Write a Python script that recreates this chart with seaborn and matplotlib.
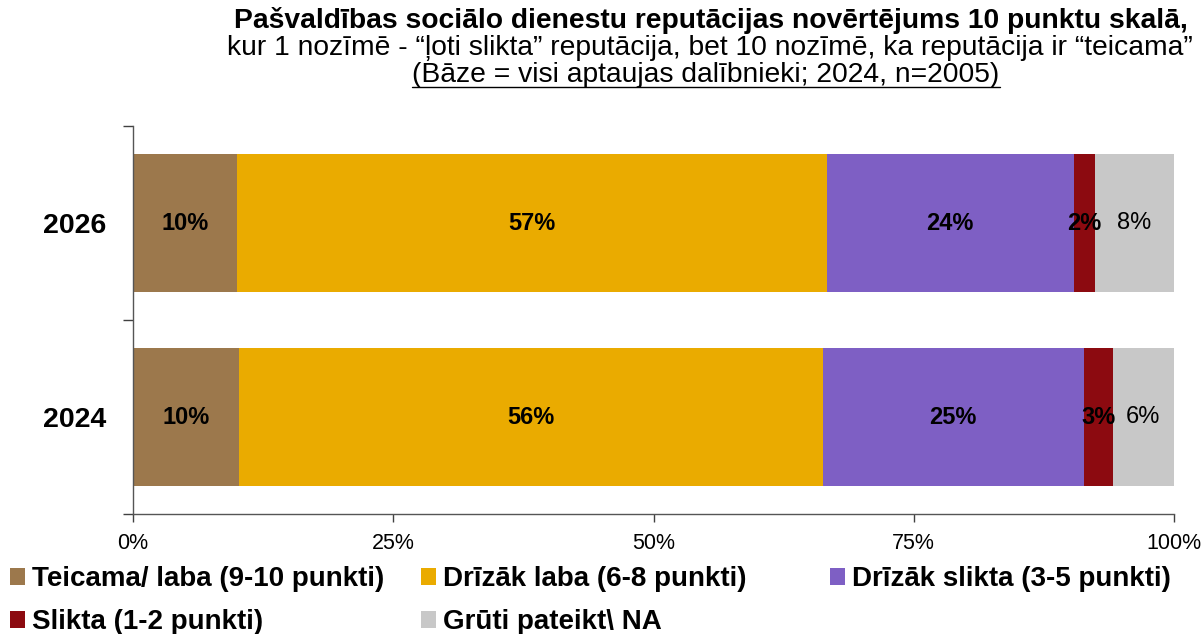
import numpy as np
import pandas as pd
import seaborn as sns
import matplotlib.pyplot as plt
from matplotlib.patches import Patch
from matplotlib.lines import Line2D

years = ['2026', '2024']
categories = ['Teicama/ laba (9-10 punkti)', 'Drīzāk laba (6-8 punkti)',
              'Drīzāk slikta (3-5 punkti)', 'Slikta (1-2 punkti)', 'Grūti pateikt\\ NA']
teicama = [9.96, 10.22]
drizak_laba = [56.7, 56.03]
drizak_slikta = [23.7, 25.07]
slikta = [2.04, 2.78]
gruti = [7.6, 5.9]
colors = ['#9C784C', '#EAAB00', '#7E5FC4', '#8C0A10', '#C8C8C8']
x_ticks = [0, 25, 50, 75, 100]

sns.set_theme(style='white')
plt.rcParams['font.family'] = ['Liberation Sans', 'DejaVu Sans']
plt.rcParams['text.color'] = 'black'
plt.rcParams['xtick.color'] = 'black'
plt.rcParams['ytick.color'] = 'black'

fig = plt.figure(figsize=(12.03, 6.34), dpi=100)
ax = fig.add_axes([133 / 1203, 1 - 514 / 634, 1041 / 1203, 388 / 634])

series = [teicama, drizak_laba, drizak_slikta, slikta, gruti]
cum = np.cumsum(series, axis=0)

# stacked bars: draw cumulative totals from the longest down
for i in reversed(range(len(series))):
    df = pd.DataFrame({'year': years, 'value': cum[i]})
    sns.barplot(data=df, x='value', y='year', orient='h', color=colors[i],
                width=0.71, saturation=1, ax=ax, edgecolor='none')

for i, vals in enumerate(series):
    for j, v in enumerate(vals):
        center = cum[i][j] - v / 2
        ax.text(center, j, f'{round(v)}%', ha='center', va='center', fontsize=17,
                fontweight='bold' if i < 4 else 'normal', color='black')

ax.set_xlim(0, 100)
ax.set_ylim(1.5, -0.5)
ax.set_xticks(x_ticks)
ax.set_xticklabels([f'{t}%' for t in x_ticks], fontsize=15.5)
ax.set_yticks([-0.5, 0.5, 1.5])
ax.set_yticklabels([])
ax.set_yticks([0, 1], minor=True)
ax.set_yticklabels(years, minor=True, fontsize=20.5, fontweight='bold')
ax.tick_params(axis='y', which='minor', length=0, pad=19)
ax.tick_params(axis='y', which='major', length=7, width=1, color='#404040', direction='out', left=True)
ax.tick_params(axis='x', length=6, width=1, color='#404040', direction='out', bottom=True, pad=8)
ax.set_xlabel('')
ax.set_ylabel('')
sns.despine(ax=ax)
for s in ['left', 'bottom']:
    ax.spines[s].set_color('#555555')
    ax.spines[s].set_linewidth(1)

# title
fig.text(711 / 1203, 1 - 21 / 634, 'Pašvaldības sociālo dienestu reputācijas novērtējums 10 punktu skalā,',
         ha='center', va='center', fontsize=20.3, fontweight='bold')
fig.text(710 / 1203, 1 - 48 / 634,
         'kur 1 nozīmē - “ļoti slikta” reputācija, bet 10 nozīmē, ka reputācija ir “teicama”',
         ha='center', va='center', fontsize=20.3)
t3 = fig.text(706 / 1203, 1 - 75 / 634, '(Bāze = visi aptaujas dalībnieki; 2024, n=2005)',
              ha='center', va='center', fontsize=20.3)

# legend, laid out on a fixed grid
pos = [(10, 579), (421, 579), (830, 579), (10, 622), (421, 622)]
for name, c, (px, py) in zip(categories, colors, pos):
    fig.legend(handles=[Patch(facecolor=c, edgecolor='none')], labels=[name],
               loc='center left', bbox_to_anchor=(px / 1203, 1 - py / 634),
               frameon=False, borderpad=0, borderaxespad=0, handlelength=0.55,
               handleheight=0.55, handletextpad=0.25,
               prop={'size': 20, 'weight': 'bold'})

fig.canvas.draw()
bb = t3.get_window_extent().transformed(fig.transFigure.inverted())
fig.add_artist(Line2D([bb.x0, bb.x1], [bb.y0 + 0.002, bb.y0 + 0.002],
                      transform=fig.transFigure, color='black', lw=1))

fig.savefig('out.png', dpi=100)
